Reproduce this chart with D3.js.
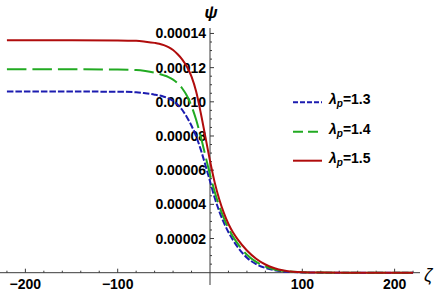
<!DOCTYPE html>
<html>
<head>
<meta charset="utf-8">
<script src="https://cdn.jsdelivr.net/npm/d3@7"></script>
<style>
  body { margin: 0; background: #fff; }
  svg { display: block; font-family: "Liberation Sans", Arial, sans-serif; }
</style>
</head>
<body>
<svg width="436" height="293"></svg>
<script>
// zeta grid and psi values
var zeta = [-220, -150, -100, -80, -70, -60, -55, -50, -45, -40, -35, -30, -25, -20, -15, -10, -5, 0, 5, 10, 15, 20, 25, 30, 40, 50, 60, 70, 80, 90, 100, 120, 150, 220];

var psi13 = [10.6e-5, 10.6e-5, 10.59e-5, 10.56e-5, 10.5e-5, 10.42e-5, 10.37e-5, 10.3e-5, 10.2e-5, 10.05e-5, 9.83e-5, 9.52e-5, 9.1e-5, 8.6e-5, 7.98e-5, 7.2e-5, 6.3e-5, 5.35e-5, 4.4e-5, 3.6e-5, 2.93e-5, 2.37e-5, 1.9e-5, 1.5e-5, 0.88e-5, 0.5e-5, 0.28e-5, 0.145e-5, 0.072e-5, 0.034e-5, 0.016e-5, 0.004e-5, 0.001e-5, 0];
var psi14 = [11.9e-5, 11.9e-5, 11.89e-5, 11.86e-5, 11.8e-5, 11.7e-5, 11.63e-5, 11.55e-5, 11.45e-5, 11.3e-5, 11.08e-5, 10.78e-5, 10.35e-5, 9.75e-5, 8.95e-5, 7.95e-5, 6.85e-5, 5.75e-5, 4.75e-5, 3.9e-5, 3.2e-5, 2.6e-5, 2.1e-5, 1.7e-5, 1.05e-5, 0.63e-5, 0.36e-5, 0.19e-5, 0.1e-5, 0.05e-5, 0.022e-5, 0.005e-5, 0.001e-5, 0];
var psi15 = [13.6e-5, 13.6e-5, 13.59e-5, 13.57e-5, 13.52e-5, 13.45e-5, 13.4e-5, 13.32e-5, 13.2e-5, 13.03e-5, 12.78e-5, 12.47e-5, 12.05e-5, 11.47e-5, 10.6e-5, 9.35e-5, 7.95e-5, 6.55e-5, 5.3e-5, 4.3e-5, 3.5e-5, 2.85e-5, 2.35e-5, 1.95e-5, 1.3e-5, 0.82e-5, 0.48e-5, 0.26e-5, 0.13e-5, 0.06e-5, 0.028e-5, 0.006e-5, 0.001e-5, 0];

var lambdas = ["1.3", "1.4", "1.5"];
var xTicks = [-200, -100, 100, 200];
var yTicks = [0.00002, 0.00004, 0.00006, 0.00008, 0.00010, 0.00012, 0.00014];
var yTickLabels = ["0.00002", "0.00004", "0.00006", "0.00008", "0.00010", "0.00012", "0.00014"];

var svg = d3.select('svg');

var x = d3.scaleLinear()
    .domain([-227.5, 227.5])
    .range([0, 420]);

var y = d3.scaleLinear()
    .domain([-0.0000072, 0.0001432])
    .range([285, 28]);

var axisColor = '#3a3a3a';

// x axis line + ticks (ticks point up)
svg.append('line')
    .attr('x1', x(-227.5)).attr('x2', x(227.5))
    .attr('y1', y(0)).attr('y2', y(0))
    .attr('stroke', axisColor).attr('stroke-width', 1);

var xMinor = d3.range(-220, 221, 20).filter(function(d){ return d !== 0; });
svg.selectAll('.xminor')
    .data(xMinor)
    .enter()
    .append('line')
    .attr('x1', function(d){ return x(d); })
    .attr('x2', function(d){ return x(d); })
    .attr('y1', y(0))
    .attr('y2', function(d){ return y(0) - (d % 100 === 0 ? 4 : 2); })
    .attr('stroke', axisColor).attr('stroke-width', 1);

svg.selectAll('.xlab')
    .data(xTicks)
    .enter()
    .append('text')
    .attr('x', function(d){ return x(d); })
    .attr('y', y(0) + 16)
    .attr('text-anchor', 'middle')
    .style('font-size', '14px')
    .style('font-weight', 'bold')
    .text(function(d){ return d < 0 ? '\u2212' + Math.abs(d) : d; });

// y axis line + ticks (ticks point right)
svg.append('line')
    .attr('x1', x(0)).attr('x2', x(0))
    .attr('y1', y(-0.0000072)).attr('y2', y(0.0001432))
    .attr('stroke', axisColor).attr('stroke-width', 1);

var yMinor = d3.range(1, 29).map(function(i){ return i * 0.000005; });
svg.selectAll('.yminor')
    .data(yMinor)
    .enter()
    .append('line')
    .attr('x1', x(0))
    .attr('x2', function(d, i){ return x(0) + ((i + 1) % 4 === 0 ? 4 : 2); })
    .attr('y1', function(d){ return y(d); })
    .attr('y2', function(d){ return y(d); })
    .attr('stroke', axisColor).attr('stroke-width', 1);

svg.selectAll('.ylab')
    .data(yTicks)
    .enter()
    .append('text')
    .attr('x', x(0) - 4)
    .attr('y', function(d){ return y(d) + 5; })
    .attr('text-anchor', 'end')
    .style('font-size', '14px')
    .style('font-weight', 'bold')
    .text(function(d, i){ return yTickLabels[i]; });

// axis labels
svg.append('text')
    .attr('x', x(0) + 1)
    .attr('y', 18)
    .attr('text-anchor', 'middle')
    .style('font-size', '17px')
    .style('font-weight', 'bold')
    .style('font-style', 'italic')
    .text('\u03c8');

svg.append('text')
    .attr('x', 424)
    .attr('y', 281)
    .style('font-size', '18px')
    .style('font-style', 'italic')
    .text('\u03b6');

// curves
var series = [
    {vals: psi13, color: '#1c1cb0', dash: '6.5,2', legDash: '5,2'},
    {vals: psi14, color: '#22aa22', dash: '19.5,6', legDash: '10,5'},
    {vals: psi15, color: '#b00c0c', dash: null, legDash: null}
];

var line = d3.line()
    .x(function(d){ return x(d[0]); })
    .y(function(d){ return y(d[1]); })
    .curve(d3.curveMonotoneX);

svg.selectAll('.curve')
    .data(series)
    .enter()
    .append('path')
    .attr('d', function(s){ return line(zeta.map(function(z, i){ return [z, s.vals[i]]; })); })
    .attr('fill', 'none')
    .attr('stroke', function(s){ return s.color; })
    .attr('stroke-width', 2)
    .attr('stroke-dasharray', function(s){ return s.dash; });

// legend
var legY = [102.3, 131.7, 160.7];
var leg = svg.selectAll('.leg')
    .data(series)
    .enter()
    .append('g')
    .attr('transform', function(s, i){ return 'translate(0,' + legY[i] + ')'; });

leg.append('line')
    .attr('x1', 293).attr('x2', 322)
    .attr('y1', 0).attr('y2', 0)
    .attr('stroke', function(s){ return s.color; })
    .attr('stroke-width', 2)
    .attr('stroke-dasharray', function(s){ return s.legDash; });

var lt = leg.append('text')
    .attr('x', 329)
    .attr('y', 2)
    .style('font-size', '14px')
    .style('font-weight', 'bold');
lt.append('tspan').style('font-style', 'italic').text('\u03bb');
lt.append('tspan').style('font-style', 'italic').style('font-size', '10px').attr('dy', 3).text('p');
lt.append('tspan').attr('dy', -3).text(function(s, i){ return '=' + lambdas[i]; });
</script>
</body>
</html>
